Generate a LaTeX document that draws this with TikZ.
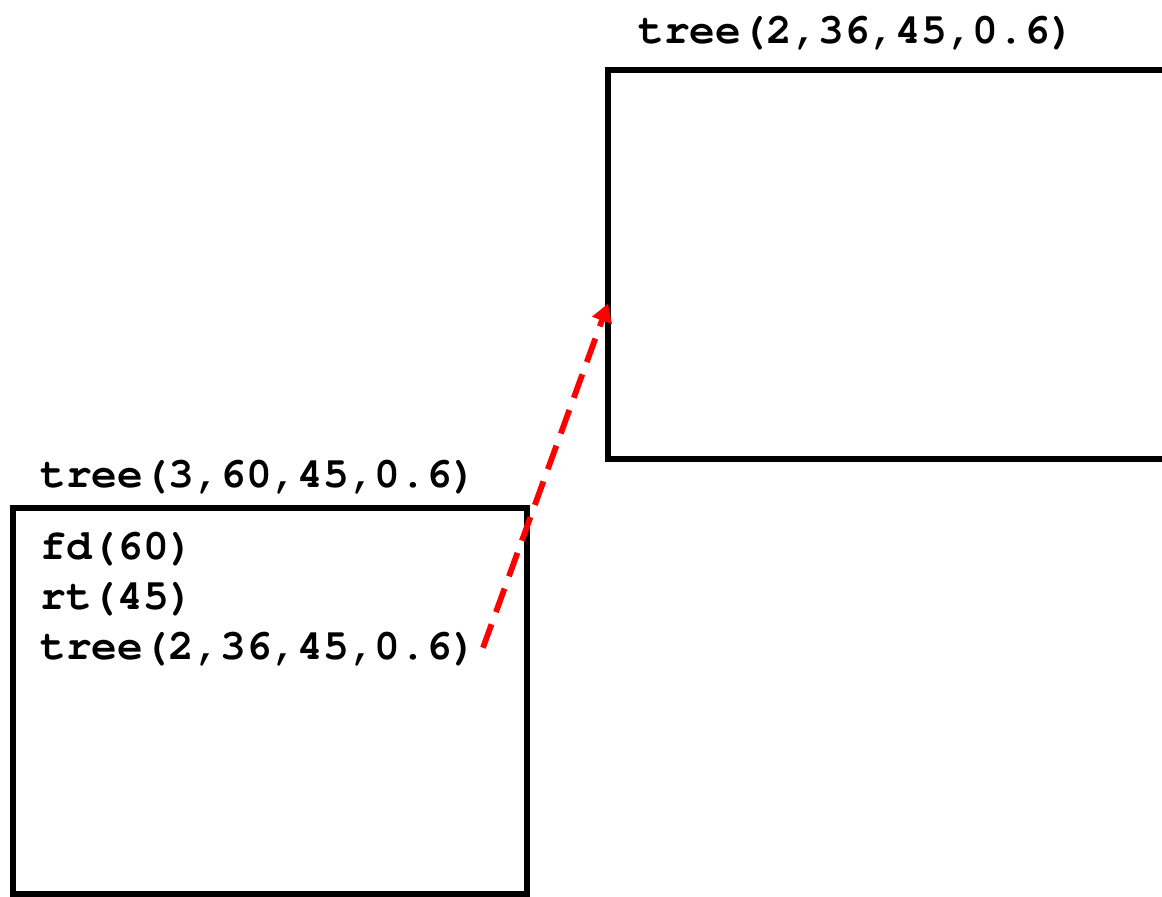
\documentclass[tikz,border=0pt]{standalone}
\usepackage[T1]{fontenc}
\renewcommand\ttdefault{pcr}
\usetikzlibrary{arrows.meta,positioning}

\begin{document}
\begin{tikzpicture}[x=0.02cm,y=-0.02cm,
      every node/.style={font={\ttfamily\bfseries\fontsize{24.4}{28}\selectfont},inner sep=0pt},
      frame/.style={draw,line width=3.4pt,outer sep=0pt},
      code/.style={anchor=base west},
      recur/.style={red,line width=3.3pt,dash pattern=on 0.5cm off 0.26cm,-{Triangle[length=0.36cm,width=0.4cm]}}]
    \useasboundingbox (0,0) rectangle (1162,896);
    \clip (0,0) rectangle (1162,896);
    % Outer call
    \node[frame,minimum width=10.28cm,minimum height=7.72cm] (callbox) at (270,701) {};
    \node[code] (calllbl) at (40,487) {tree(3,60,45,0.6)};
    \node[code] (line1) at (40,559) {fd(60)};
    \node[code] (line2) at (40,609) {rt(45)};
    \node[code] (line3) at (40,659) {tree(2,36,45,0.6)};
    % Recursive call
    \node[frame,minimum width=12.4cm,minimum height=7.78cm] (subbox) at (918,264.5) {};
    \node[code] (sublbl) at (638,43) {tree(2,36,45,0.6)};
    \draw[recur] ([xshift=0.1cm]line3.east) -- ([yshift=-0.78cm]subbox.west);
  \end{tikzpicture}
\end{document}
